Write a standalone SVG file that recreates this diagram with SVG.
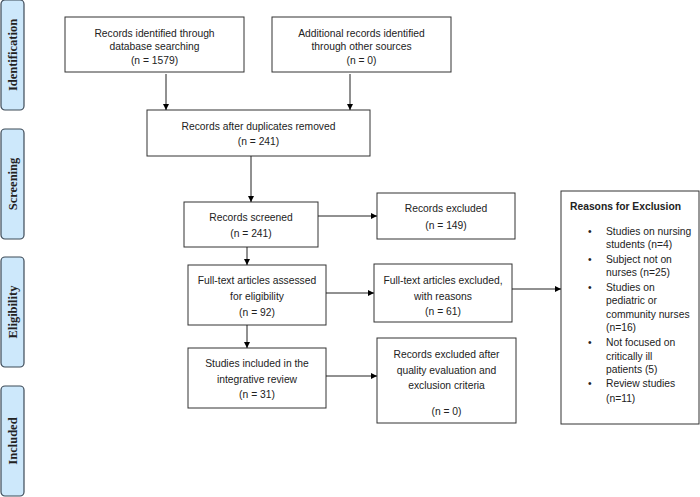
<svg xmlns="http://www.w3.org/2000/svg" width="700" height="497" viewBox="0 0 700 497">
<defs>
<marker id="ah" viewBox="0 0 6 6" refX="6" refY="3" markerWidth="6" markerHeight="6" markerUnits="userSpaceOnUse" orient="auto">
<path d="M0,0 L6,3 L0,6 Z" fill="#000"/>
</marker>
</defs>
<style>
.box{fill:#fff;stroke:#333;stroke-width:1}
.side{fill:#cde8fb;stroke:#3d4a57;stroke-width:1.2}
.t{font-family:"Liberation Sans",Arial,sans-serif;font-size:10.3px;fill:#222;text-anchor:middle}
.tl{font-family:"Liberation Sans",Arial,sans-serif;font-size:10.3px;fill:#222}
.b{font-weight:bold}
.s{font-family:"Liberation Serif","Times New Roman",serif;font-size:12.5px;font-weight:bold;fill:#222;text-anchor:middle}
.c{stroke:#222;stroke-width:1;fill:none;marker-end:url(#ah)}
</style>
<rect width="700" height="497" fill="#fff"/>
<g id="side-identification"><rect class="side" x="1" y="0" width="23" height="110" rx="4"/><text class="s" transform="translate(17,55) rotate(-90)">Identification</text></g>
<g id="side-screening"><rect class="side" x="1" y="129" width="23" height="110" rx="4"/><text class="s" transform="translate(17,184) rotate(-90)">Screening</text></g>
<g id="side-eligibility"><rect class="side" x="1" y="257" width="23" height="110" rx="4"/><text class="s" transform="translate(17,312) rotate(-90)">Eligibility</text></g>
<g id="side-included"><rect class="side" x="1" y="386" width="23" height="110" rx="4"/><text class="s" transform="translate(17,441) rotate(-90)">Included</text></g>

<g id="n-db"><rect class="box" x="65" y="17" width="179" height="55"/>
<text class="t" x="154.5" y="37">Records identified through</text>
<text class="t" x="154.5" y="50">database searching</text>
<text class="t" x="154.5" y="64">(n = 1579)</text></g>
<g id="n-other"><rect class="box" x="272" y="17" width="179" height="55"/>
<text class="t" x="361.5" y="37">Additional records identified</text>
<text class="t" x="361.5" y="50">through other sources</text>
<text class="t" x="361.5" y="64">(n = 0)</text></g>
<g id="n-dup"><rect class="box" x="147" y="110" width="223" height="46"/>
<text class="t" x="258.5" y="130">Records after duplicates removed</text>
<text class="t" x="258.5" y="145">(n = 241)</text></g>
<g id="n-screened"><rect class="box" x="184" y="202" width="134" height="45"/>
<text class="t" x="251" y="221">Records screened</text>
<text class="t" x="251" y="237">(n = 241)</text></g>
<g id="n-excl"><rect class="box" x="377" y="193" width="138" height="46"/>
<text class="t" x="446" y="212">Records excluded</text>
<text class="t" x="446" y="229">(n = 149)</text></g>
<g id="n-full"><rect class="box" x="188" y="265" width="138" height="60"/>
<text class="t" x="257" y="284">Full-text articles assessed</text>
<text class="t" x="257" y="300">for eligibility</text>
<text class="t" x="257" y="316">(n = 92)</text></g>
<g id="n-fullexcl"><rect class="box" x="374" y="264" width="138" height="58"/>
<text class="t" x="443" y="284">Full-text articles excluded,</text>
<text class="t" x="443" y="300">with reasons</text>
<text class="t" x="443" y="315">(n = 61)</text></g>
<g id="n-incl"><rect class="box" x="188" y="348" width="138" height="60"/>
<text class="t" x="257" y="367">Studies included in the</text>
<text class="t" x="257" y="383">integrative review</text>
<text class="t" x="257" y="398">(n = 31)</text></g>
<g id="n-qual"><rect class="box" x="377" y="338" width="139" height="85"/>
<text class="t" x="446.5" y="358">Records excluded after</text>
<text class="t" x="446.5" y="374">quality evaluation and</text>
<text class="t" x="446.5" y="389">exclusion criteria</text>
<text class="t" x="446.5" y="415">(n = 0)</text></g>
<g id="n-reasons"><rect class="box" x="561" y="191" width="138" height="233"/>
<text class="tl b" x="570" y="210">Reasons for Exclusion</text>
<g class="tl">
<text x="588" y="235">•</text><text x="606" y="235">Studies on nursing</text>
<text x="606" y="248">students (n=4)</text>
<text x="588" y="263">•</text><text x="606" y="263">Subject not on</text>
<text x="606" y="276">nurses (n=25)</text>
<text x="588" y="291">•</text><text x="606" y="291">Studies on</text>
<text x="606" y="304">pediatric or</text>
<text x="606" y="318">community nurses</text>
<text x="606" y="331">(n=16)</text>
<text x="588" y="346">•</text><text x="606" y="346">Not focused on</text>
<text x="606" y="360">critically ill</text>
<text x="606" y="373">patients (5)</text>
<text x="588" y="387">•</text><text x="606" y="387">Review studies</text>
<text x="606" y="402">(n=11)</text>
</g></g>

<g id="connectors">
<line class="c" x1="166" y1="74" x2="166" y2="110"/>
<line class="c" x1="350" y1="74" x2="350" y2="110"/>
<line class="c" x1="251" y1="156" x2="251" y2="202"/>
<line class="c" x1="247" y1="247" x2="247" y2="265"/>
<line class="c" x1="247" y1="325" x2="247" y2="348"/>
<line class="c" x1="318" y1="216" x2="377" y2="216"/>
<line class="c" x1="326" y1="293" x2="374" y2="293"/>
<line class="c" x1="512" y1="289" x2="561" y2="289"/>
<line class="c" x1="326" y1="376" x2="377" y2="376"/>
</g>
</svg>
